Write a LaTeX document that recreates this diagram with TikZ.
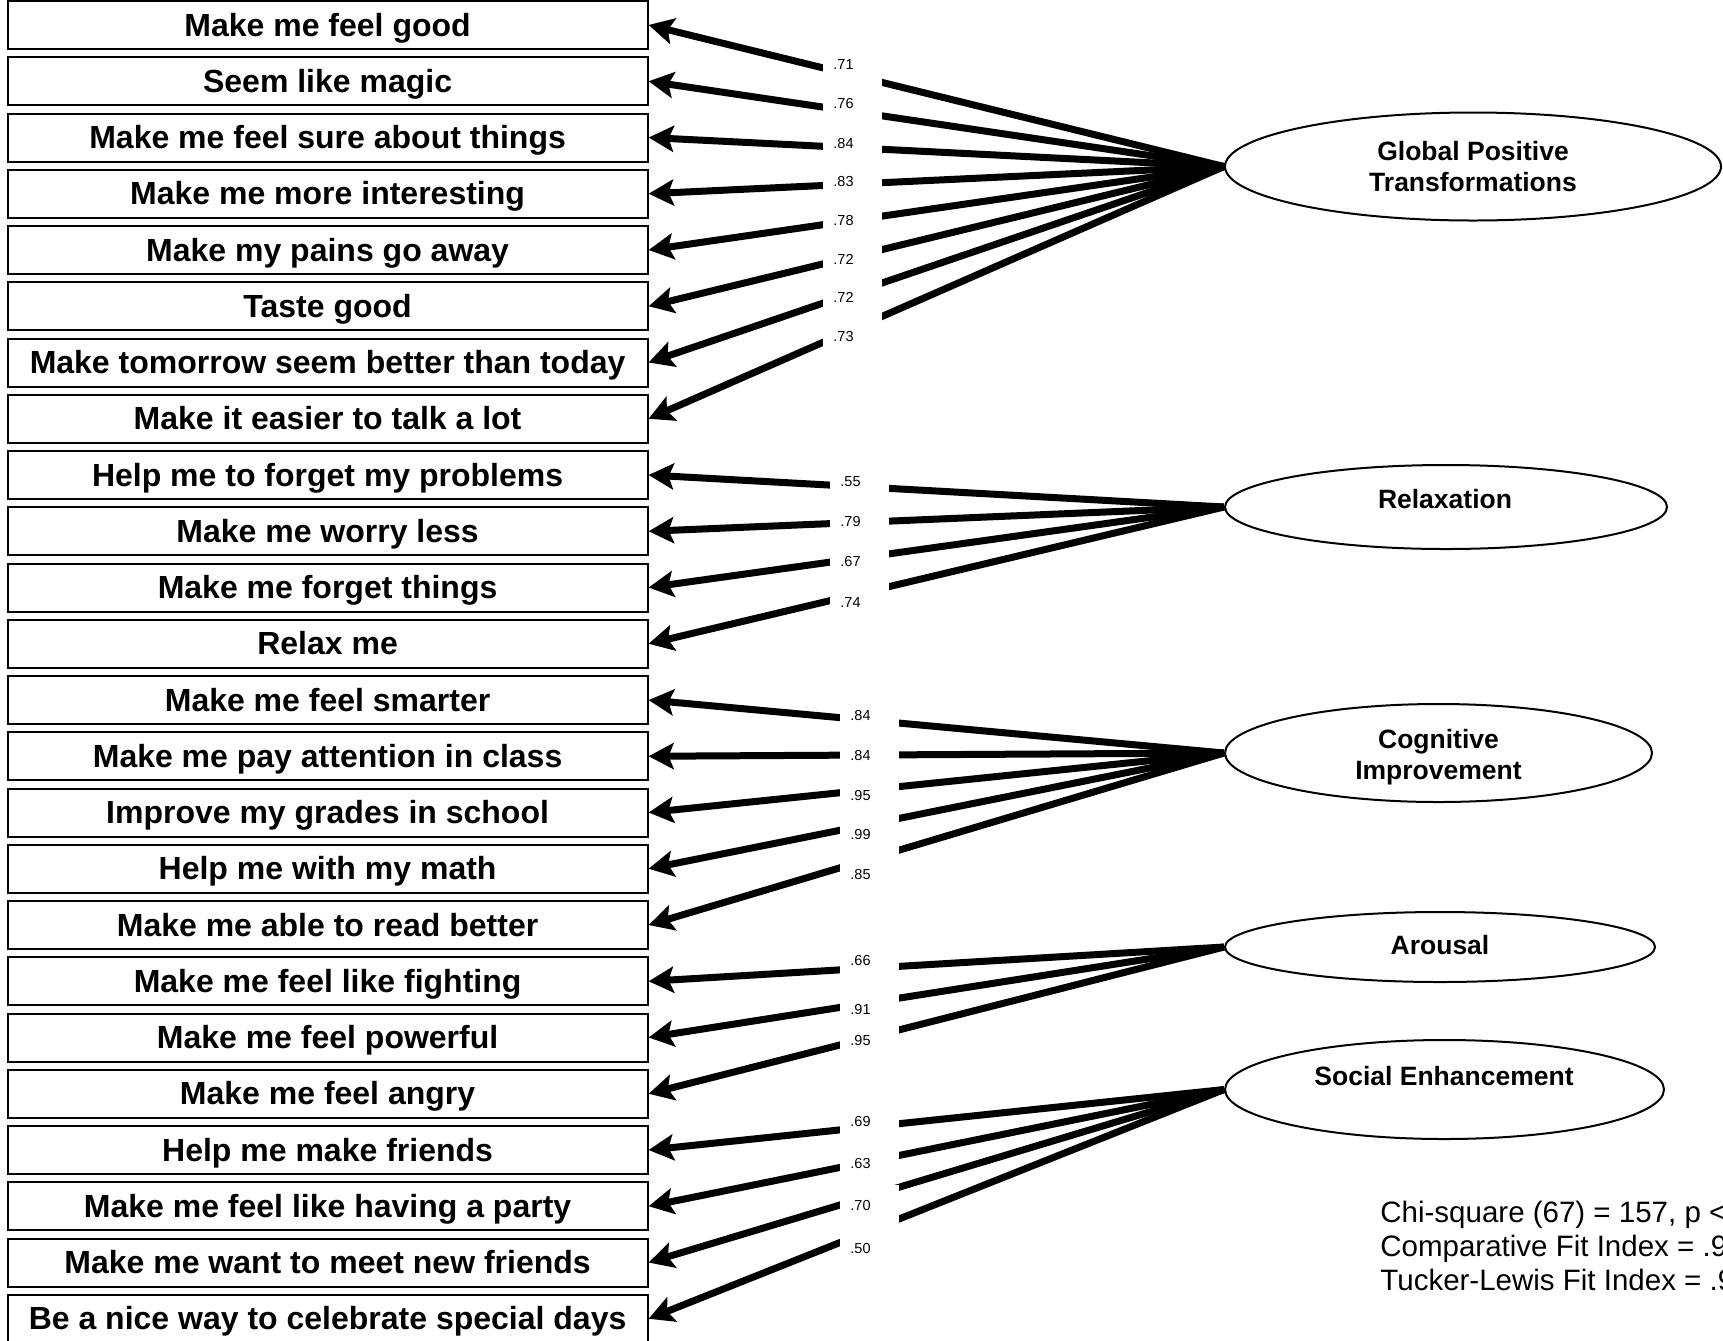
\documentclass[tikz,border=0pt]{standalone}
\usepackage{fontspec}
\setmainfont{Liberation Sans}
\usetikzlibrary{shapes.geometric,arrows.meta}
\pgfdeclarelayer{background}
\pgfsetlayers{background,main}
\begin{document}
\begin{tikzpicture}[x=0.5pt,y=-0.5pt,
  item/.style={draw, line width=1pt, rectangle, minimum width=320pt, minimum height=24pt, inner sep=0pt,
    font=\bfseries\fontsize{16}{19}\selectfont, text height=14.5pt, text depth=3.4pt},
  factor/.style={draw, line width=1pt, ellipse, inner sep=0pt, fill=white},
  ftext/.style={font=\bfseries\fontsize{13.25}{15.85}\selectfont, align=center, inner sep=0pt},
  load/.style={line width=3.5pt, -{Stealth[length=12.5pt,width=13pt,inset=2.5pt]}},
  coef/.style={fill=white, anchor=west, inner xsep=5pt, inner ysep=0pt, text width=19.5pt, align=left,
    minimum height=21pt, font=\fontsize{7.25}{8}\selectfont},
  stat/.style={font=\fontsize{14.75}{16.85}\selectfont, align=left, inner sep=0pt, anchor=north west}
]
\useasboundingbox (0,0) rectangle (1723,1340);

% observed items
\foreach \txt [count=\i from 0] in {
  Make me feel good, Seem like magic, Make me feel sure about things, Make me more interesting,
  Make my pains go away, Taste good, Make tomorrow seem better than today, Make it easier to talk a lot,
  Help me to forget my problems, Make me worry less, Make me forget things, Relax me,
  Make me feel smarter, Make me pay attention in class, Improve my grades in school, Help me with my math,
  Make me able to read better, Make me feel like fighting, Make me feel powerful, Make me feel angry,
  Help me make friends, Make me feel like having a party, Make me want to meet new friends,
  Be a nice way to celebrate special days}
  \node[item] (b\i) at (327.6,{25+56.25*\i}) {\txt};

% latent factors
\node[factor, minimum width=248pt, minimum height=54pt] (g) at (1473,166.5) {};
\node[factor, minimum width=221pt, minimum height=42pt] (r) at (1446,507) {};
\node[factor, minimum width=213.5pt, minimum height=49pt] (c) at (1438.5,753) {};
\node[factor, minimum width=215pt, minimum height=35pt] (a) at (1440,947) {};
\node[factor, minimum width=219.5pt, minimum height=49.5pt] (s) at (1444.5,1089.5) {};

\node[ftext] (t1) at (1473,166.5) {Global Positive\\Transformations};
\node[ftext] (t2) at (1445,499) {Relaxation};
\node[ftext] (t3) at (1438.5,757) {Cognitive\\Improvement};
\node[ftext] (t4) at (1440,945) {Arousal};
\node[ftext] (t5) at (1444,1076) {Social Enhancement};

% loadings
\begin{pgfonlayer}{background}
\foreach \i in {0,...,7} \draw[load] (g.west) -- (b\i.east);
\foreach \i in {8,...,11} \draw[load] (r.west) -- (b\i.east);
\foreach \i in {12,...,16} \draw[load] (c.west) -- (b\i.east);
\foreach \i in {17,18,19} \draw[load] (a.west) -- (b\i.east);
\foreach \i in {20,...,23} \draw[load] (s.west) -- (b\i.east);
\end{pgfonlayer}

% coefficient labels
\foreach \v/\y [count=\k] in {.71/65,.76/104,.84/143.3,.83/181.7,.78/220,.72/259,.72/297.7,.73/336.7}
  \node[coef] (lg\k) at (823,\y) {\v};
\foreach \v/\y [count=\k] in {.55/481.7,.79/521,.67/561.7,.74/602.7}
  \node[coef] (lr\k) at (830,\y) {\v};
\foreach \v/\y [count=\k] in {.84/715,.84/755,.95/795,.99/834.3,.85/874.3}
  \node[coef] (lc\k) at (840,\y) {\v};
\foreach \v/\y [count=\k] in {.66/960.7,.91/1009,.95/1040.7}
  \node[coef] (la\k) at (840,\y) {\v};
\foreach \v/\y [count=\k] in {.69/1121,.63/1163.3,.70/1205.7,.50/1248.3}
  \node[coef] (ls\k) at (840,\y) {\v};

% fit statistics (cut off at the right edge, as in the reference)
\node[stat] (fitstats) at (1380,1201) {Chi-square (67) = 157, p <\\Comparative Fit Index = .9\\Tucker-Lewis Fit Index = .9};
\end{tikzpicture}
\end{document}
